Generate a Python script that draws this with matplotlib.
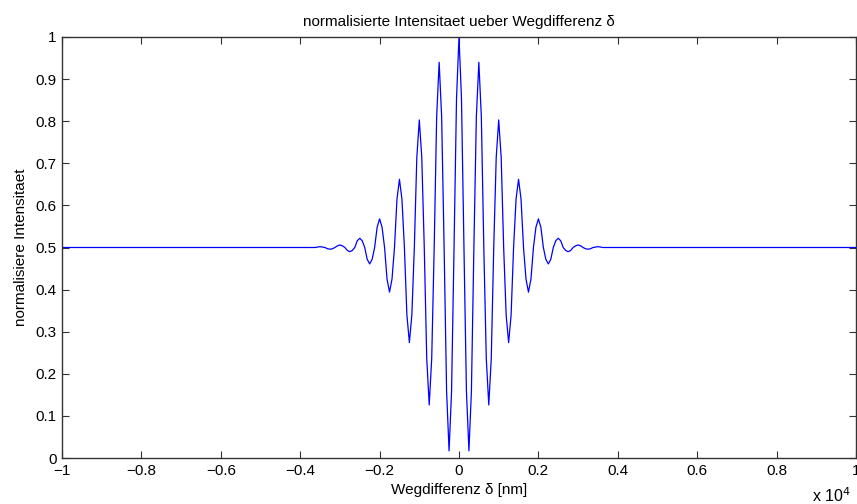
import numpy as np
import matplotlib
matplotlib.use('Agg')
import matplotlib.pyplot as plt
from matplotlib.ticker import FuncFormatter

plt.rcParams['font.family'] = ['Liberation Sans', 'DejaVu Sans']

# Wegdifferenz in nm (Stuetzstellen alle 62.5 nm im Bereich der Interferenz)
delta_nm = [-10000,
            -3750, -3687.5, -3625, -3562.5, -3500, -3437.5, -3375, -3312.5, -3250, -3187.5,
            -3125, -3062.5, -3000, -2937.5, -2875, -2812.5, -2750, -2687.5, -2625, -2562.5,
            -2500, -2437.5, -2375, -2312.5, -2250, -2187.5, -2125, -2062.5, -2000, -1937.5,
            -1875, -1812.5, -1750, -1687.5, -1625, -1562.5, -1500, -1437.5, -1375, -1312.5,
            -1250, -1187.5, -1125, -1062.5, -1000, -937.5, -875, -812.5, -750, -687.5,
            -625, -562.5, -500, -437.5, -375, -312.5, -250, -187.5, -125, -62.5,
            0,
            62.5, 125, 187.5, 250, 312.5, 375, 437.5, 500, 562.5, 625,
            687.5, 750, 812.5, 875, 937.5, 1000, 1062.5, 1125, 1187.5, 1250,
            1312.5, 1375, 1437.5, 1500, 1562.5, 1625, 1687.5, 1750, 1812.5, 1875,
            1937.5, 2000, 2062.5, 2125, 2187.5, 2250, 2312.5, 2375, 2437.5, 2500,
            2562.5, 2625, 2687.5, 2750, 2812.5, 2875, 2937.5, 3000, 3062.5, 3125,
            3187.5, 3250, 3312.5, 3375, 3437.5, 3500, 3562.5, 3625, 3687.5, 3750,
            10000]

# normalisierte Intensitaet
intensity = [0.500,
             0.500, 0.500, 0.500, 0.501, 0.502, 0.501, 0.500, 0.497, 0.496, 0.497,
             0.500, 0.504, 0.506, 0.504, 0.500, 0.493, 0.490, 0.493, 0.500, 0.516,
             0.522, 0.516, 0.500, 0.472, 0.461, 0.472, 0.500, 0.548, 0.568, 0.548,
             0.500, 0.425, 0.394, 0.425, 0.500, 0.615, 0.662, 0.615, 0.500, 0.340,
             0.274, 0.340, 0.500, 0.714, 0.803, 0.714, 0.500, 0.236, 0.126, 0.236,
             0.500, 0.811, 0.940, 0.811, 0.500, 0.158, 0.017, 0.158, 0.500, 0.854,
             1.000,
             0.854, 0.500, 0.158, 0.017, 0.158, 0.500, 0.811, 0.940, 0.811, 0.500,
             0.236, 0.126, 0.236, 0.500, 0.714, 0.803, 0.714, 0.500, 0.340, 0.274,
             0.340, 0.500, 0.615, 0.662, 0.615, 0.500, 0.425, 0.394, 0.425, 0.500,
             0.548, 0.568, 0.548, 0.500, 0.472, 0.461, 0.472, 0.500, 0.516, 0.522,
             0.516, 0.500, 0.493, 0.490, 0.493, 0.500, 0.504, 0.506, 0.504, 0.500,
             0.497, 0.496, 0.497, 0.500, 0.501, 0.502, 0.501, 0.500, 0.500, 0.500,
             0.500]

x_ticks = np.arange(-1.0, 1.01, 0.2)
y_ticks = np.arange(0.0, 1.01, 0.1)


def fmt(v, pos=None):
    s = ('%.1f' % v).rstrip('0').rstrip('.')
    if s in ('-0', '0'):
        return '0'
    return s.replace('-', '\u2212')


fig = plt.figure(figsize=(8.57, 5.04), dpi=100)
ax = fig.add_axes([62 / 857, 46 / 504, 794 / 857, 421 / 504])

ax.plot(delta_nm, intensity, color='#0000ff', lw=0.9)

ax.set_xlim(-10000, 10000)
ax.set_ylim(0, 1)
ax.set_xticks(x_ticks * 1e4)
ax.set_yticks(y_ticks)
ax.xaxis.set_major_formatter(FuncFormatter(lambda v, p: fmt(v / 1e4)))
ax.yaxis.set_major_formatter(FuncFormatter(lambda v, p: fmt(v)))
ax.tick_params(direction='in', length=5, width=0.8, color='#333333',
               labelsize=11, top=True, right=True, pad=4)
for sp in ax.spines.values():
    sp.set_color('#333333')
    sp.set_linewidth(1.0)

ax.set_title('normalisierte Intensitaet ueber Wegdifferenz \u03b4', fontsize=11, pad=8)
ax.set_xlabel('Wegdifferenz \u03b4 [nm]', fontsize=11, labelpad=4)
ax.set_ylabel('normalisiere Intensitaet', fontsize=11, labelpad=5)
fig.text(812 / 857, 1 - 496 / 504, 'x 10$^4$', fontsize=11.5, va='center', ha='left')

fig.savefig('out.png', dpi=100)
